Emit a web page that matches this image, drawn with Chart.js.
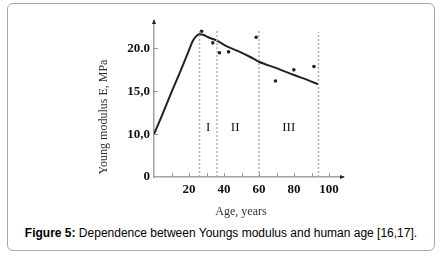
<!DOCTYPE html>
<html>
<head>
<meta charset="utf-8">
<script src="https://cdn.jsdelivr.net/npm/chart.js@4.4.1/dist/chart.umd.min.js"></script>
<style>
  body { margin: 0; background: #fff; width: 447px; height: 258px; overflow: hidden; position: relative; }
  #box { position: absolute; left: 7px; top: 3px; width: 426px; height: 246px; border: 1px solid #a8a8a8; border-radius: 6px; }
  #wrap { position: absolute; left: 0; top: 0; width: 447px; height: 222px; }
  #caption { position: absolute; left: 0; top: 226px; width: 442px; text-align: center; font: 12px "Liberation Sans", Arial, sans-serif; color: #000; }
</style>
</head>
<body>
<div id="box"></div>
<div id="wrap"><canvas id="canvas"></canvas></div>
<div id="caption"><b>Figure 5:</b> Dependence between Youngs modulus and human age [16,17].</div>
<script>
// fitted curve
const curveAge = [0, 5, 10, 15, 20, 22, 24, 26, 28, 31, 36, 42, 49, 55, 60, 70, 80, 88, 94];
const curveE = [10.0, 12.4, 14.9, 17.3, 19.8, 20.8, 21.4, 21.65, 21.6, 21.3, 20.9, 20.2, 19.6, 19.0, 18.45, 17.7, 16.9, 16.3, 15.8];

// measured points
const pointAge = [27.2, 33.6, 37.4, 42.6, 58.4, 69.4, 79.9, 91.4];
const pointE = [22.0, 20.65, 19.5, 19.6, 21.3, 16.2, 17.5, 17.9];

// age group boundaries and names
const dividerAge = [26, 36, 60, 94];
const dividerTop = [22.2, 22.2, 22.2, 21.9];
const groupNames = ['I', 'II', 'III'];
const groupAge = [31, 46.4, 77];
const groupE = 10.8;

const xTicks = [20, 40, 60, 80, 100];
const xMinorTicks = [10, 20, 30, 40, 50, 60, 70, 80, 90, 100];
const yTicks = [5, 10, 15, 20];
const yTickLabels = ['0', '10,0', '15,0', '20.0'];
const yMinorTicks = [10, 15, 20];

const serif = '"Liberation Serif", "Times New Roman", serif';

const datasets = [];

dividerAge.forEach((a, i) => {
    datasets.push({
        data: [{x: a, y: 5}, {x: a, y: dividerTop[i]}],
        borderColor: '#b0b0b0',
        borderWidth: 1.5,
        borderDash: [2, 2],
        pointRadius: 0,
        fill: false
    });
});

datasets.push({
    data: curveAge.map((a, i) => ({x: a, y: curveE[i]})),
    borderColor: '#222',
    borderWidth: 2,
    pointRadius: 0,
    cubicInterpolationMode: 'monotone',
    fill: false
});

datasets.push({
    data: pointAge.map((a, i) => ({x: a, y: pointE[i]})),
    showLine: false,
    pointRadius: 1.8,
    pointBackgroundColor: '#222',
    pointBorderWidth: 0
});

const extras = {
    id: 'extras',
    afterDraw(chart) {
        const ctx = chart.ctx;
        const xs = chart.scales.x;
        const ys = chart.scales.y;
        const area = chart.chartArea;
        ctx.save();

        // small tick marks inside the axes
        ctx.strokeStyle = '#999';
        ctx.lineWidth = 1;
        xMinorTicks.forEach(v => {
            const px = Math.round(xs.getPixelForValue(v)) + 0.5;
            ctx.beginPath();
            ctx.moveTo(px, area.bottom);
            ctx.lineTo(px, area.bottom - 4);
            ctx.stroke();
        });
        yMinorTicks.forEach(v => {
            const py = Math.round(ys.getPixelForValue(v)) + 0.5;
            ctx.beginPath();
            ctx.moveTo(area.left, py);
            ctx.lineTo(area.left + 4, py);
            ctx.stroke();
        });

        // arrow heads
        ctx.fillStyle = '#222';
        ctx.beginPath();
        ctx.moveTo(area.left, area.top - 2);
        ctx.lineTo(area.left - 2, area.top + 3);
        ctx.lineTo(area.left + 2, area.top + 3);
        ctx.fill();
        ctx.beginPath();
        ctx.moveTo(area.right + 2, area.bottom);
        ctx.lineTo(area.right - 3, area.bottom - 2);
        ctx.lineTo(area.right - 3, area.bottom + 2);
        ctx.fill();

        // group names
        ctx.fillStyle = '#111';
        ctx.font = '13px ' + serif;
        ctx.textAlign = 'center';
        ctx.textBaseline = 'middle';
        groupNames.forEach((n, i) => {
            ctx.fillText(n, xs.getPixelForValue(groupAge[i]), ys.getPixelForValue(groupE));
        });

        // axis titles
        ctx.font = '12px ' + serif;
        ctx.fillStyle = '#333';
        ctx.fillText('Age, years', 241, 212);
        ctx.translate(104, 117);
        ctx.rotate(-Math.PI / 2);
        ctx.fillText('Young modulus E, MPa', 0, 0);
        ctx.restore();
    }
};

new Chart(document.getElementById('canvas'), {
    type: 'line',
    data: { datasets: datasets },
    options: {
        responsive: true,
        maintainAspectRatio: false,
        animation: false,
        layout: { padding: { top: 21, right: 104, left: 0, bottom: 0 } },
        plugins: { legend: { display: false }, tooltip: { enabled: false } },
        scales: {
            x: {
                type: 'linear',
                min: 0,
                max: 108,
                afterBuildTicks: axis => { axis.ticks = xTicks.map(v => ({value: v})); },
                afterFit: axis => { axis.height = 45; },
                grid: { display: false, drawTicks: false },
                border: { color: '#a0a0a0', width: 1.5 },
                ticks: { padding: 5, color: '#111', font: { family: serif, size: 13, weight: 'bold' }, maxRotation: 0 }
            },
            y: {
                min: 5,
                max: 23.2,
                afterBuildTicks: axis => { axis.ticks = yTicks.map(v => ({value: v})); },
                afterFit: axis => { axis.width = 154; },
                grid: { display: false, drawTicks: false },
                border: { color: '#a0a0a0', width: 1.5 },
                ticks: {
                    padding: 4,
                    color: '#111',
                    font: { family: serif, size: 13, weight: 'bold' },
                    callback: v => yTickLabels[yTicks.indexOf(v)]
                }
            }
        }
    },
    plugins: [extras]
});
</script>
</body>
</html>
